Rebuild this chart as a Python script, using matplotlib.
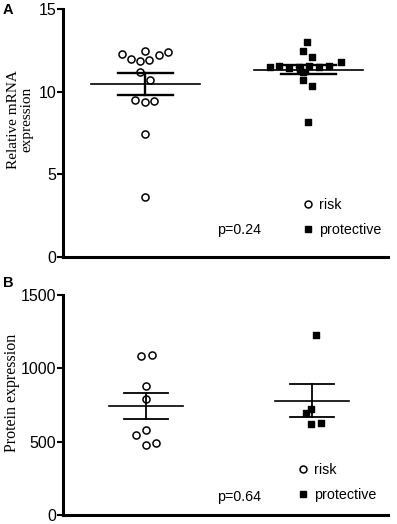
import matplotlib
matplotlib.use("Agg")
from matplotlib import pyplot as plt
from matplotlib.lines import Line2D
import numpy as np

plt.rcParams['font.family'] = 'Liberation Sans'

# panel A: relative mRNA expression
mrna_risk = [12.28, 12.46, 12.2, 12.38, 11.98, 11.88, 11.92, 11.21, 10.71, 9.5, 9.4, 9.44, 7.45, 3.63]
mrna_risk_jit = [-23, 0, 14, 23, -14, -5, 4, -5, 5, -10, 0, 9, 0, 0]
mrna_prot = [12.99, 12.46, 12.11, 11.82, 11.5, 11.55, 11.45, 11.5, 11.55, 11.5, 11.55, 11.35, 11.2, 10.7, 10.37, 8.15]
mrna_prot_jit = [-1, -5, 4, 33, -38, -29, -19, -9, 1, 11, 21, -8, -5, -5, 4, 0]
mrna_mean = [10.45, 11.31]
mrna_upper = [11.1, 11.62]
mrna_lower = [9.78, 11.05]

# panel B: protein expression
prot_risk = [1087, 1092, 880, 790, 546, 578, 478, 492]
prot_risk_jit = [-5, 6, 0, 0, -10, 0, 0, 10]
prot_prot = [1227, 722, 693, 620, 627]
prot_prot_jit = [4, -1, -6, -1, 9]
prot_mean = [744, 778]
prot_upper = [835, 891]
prot_lower = [652, 666]

PX = 163.0  # pixels per x unit


def panel(ax, risk, rjit, prot, pjit, mean, upper, lower, half_mean, half_cap, lw_mean, lw_cap, centers):
    ax.scatter(centers[0] + np.array(rjit) / PX, risk, s=26, marker='o', facecolor='white',
               edgecolor='black', linewidth=1.1, zorder=3)
    ax.scatter(centers[1] + np.array(pjit) / PX, prot, s=24, marker='s', color='black', zorder=3)
    for c, m, u, l in zip(centers, mean, upper, lower):
        ax.plot([c - half_mean / PX, c + half_mean / PX], [m, m], color='black', lw=lw_mean, zorder=4)
        ax.plot([c - half_cap / PX, c + half_cap / PX], [u, u], color='black', lw=lw_cap, zorder=4)
        ax.plot([c - half_cap / PX, c + half_cap / PX], [l, l], color='black', lw=lw_cap, zorder=4)
        ax.plot([c, c], [l, u], color='black', lw=lw_cap, zorder=4)
    ax.set_xlim(1 - 82 / PX, 2 + 80 / PX)
    ax.spines['top'].set_visible(False)
    ax.spines['right'].set_visible(False)
    ax.spines['left'].set_linewidth(2.2)
    ax.spines['bottom'].set_linewidth(2.2)
    ax.set_xticks([])
    ax.tick_params(axis='y', length=4, width=1.5, labelsize=11.5, pad=1)


fig = plt.figure(figsize=(3.97, 5.24), dpi=100)
axA = fig.add_axes([63 / 397, 1 - 257 / 524, 325 / 397, 248 / 524])
axB = fig.add_axes([63 / 397, 1 - 515 / 524, 325 / 397, 220 / 524])

panel(axA, mrna_risk, mrna_risk_jit, mrna_prot, mrna_prot_jit, mrna_mean, mrna_upper, mrna_lower,
      54.5, 27.5, 1.2, 1.7, [1.0, 2.0])
axA.set_ylim(0, 15)
axA.set_yticks([0, 5, 10, 15])
axA.text(-0.131, 0.556, 'Relative mRNA\nexpression', transform=axA.transAxes, rotation=90,
         family='Liberation Serif', fontsize=11, ha='center', va='center', linespacing=1.0)

panel(axB, prot_risk, prot_risk_jit, prot_prot, prot_prot_jit, prot_mean, prot_upper, prot_lower,
      37, 22, 1.2, 1.3, [1.0 + 1 / PX, 2.0 + 4 / PX])
axB.set_ylim(0, 1500)
axB.set_yticks([0, 500, 1000, 1500])
axB.text(-0.157, 0.556, 'Protein expression', transform=axB.transAxes, rotation=90,
         family='Liberation Serif', fontsize=11.5, ha='center', va='center')

handles = [Line2D([], [], ls='none', marker='o', markersize=5, markerfacecolor='white',
                  markeredgecolor='black', markeredgewidth=1.1),
           Line2D([], [], ls='none', marker='s', markersize=4.6, color='black')]
for ax, xf, yf, ptxt, py in [(axA, 0.736, 0.238, 'p=0.24', 0.109),
                              (axB, 0.72, 0.235, 'p=0.64', 0.08)]:
    ax.legend(handles, ['risk', 'protective'], loc='upper left', bbox_to_anchor=(xf, yf),
              frameon=False, fontsize=10.3, handlelength=0.8, handletextpad=0.37,
              labelspacing=0.75, borderpad=0, borderaxespad=0)
    ax.text(0.474, py, ptxt, transform=ax.transAxes, fontsize=10.3, va='center', ha='left')

fig.text(3 / 397, 1 - 10 / 524, 'A', fontsize=10.5, fontweight='bold', va='center', ha='left')
fig.text(3 / 397, 1 - 283 / 524, 'B', fontsize=10.5, fontweight='bold', va='center', ha='left')

plt.savefig('out.png', dpi=100)
